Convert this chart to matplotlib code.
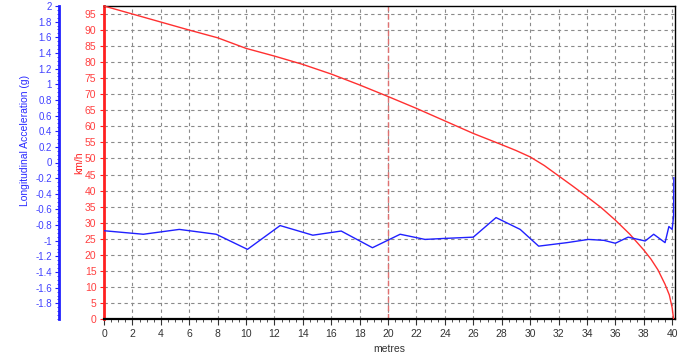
import matplotlib.pyplot as plt
import numpy as np
from matplotlib.ticker import MultipleLocator

plt.rcParams["font.family"] = ["Liberation Sans", "DejaVu Sans"]

# speed trace (km/h) vs distance (m)
speed_x = [0, 2, 4, 6, 8, 10, 12, 14, 16, 18, 20, 22, 24, 26, 28, 29, 30, 31,
           32, 33, 34, 35, 36, 37, 38, 38.5, 39, 39.5, 39.8, 40, 40.1]
speed_kmh = [97.5, 95.0, 92.5, 90.0, 87.6, 84.3, 81.9, 79.3, 76.3, 72.9, 69.3,
             65.6, 61.7, 57.8, 54.3, 52.5, 50.5, 47.8, 44.6, 41.4, 38.1, 34.7,
             30.8, 26.5, 21.5, 18.7, 15.3, 10.8, 7.5, 3.5, 0.0]

# longitudinal acceleration (g) vs distance (m)
acc_x = [0, 2.77, 5.3, 7.9, 10.1, 12.4, 14.7, 16.7, 18.9, 20.85, 22.6, 24.0,
         26.0, 27.6, 29.3, 30.6, 32.6, 34.1, 35.2, 36.0, 36.9, 38.1, 38.7,
         39.5, 39.77, 40.0, 40.1, 40.12]
acc_g = [-0.872, -0.917, -0.855, -0.917, -1.110, -0.806, -0.929, -0.876,
         -1.089, -0.917, -0.983, -0.970, -0.954, -0.704, -0.855, -1.069,
         -1.024, -0.983, -0.995, -1.032, -0.954, -1.003, -0.917, -1.024,
         -0.818, -0.855, -0.687, -0.195]

g_ticks = [-1.8, -1.6, -1.4, -1.2, -1, -0.8, -0.6, -0.4, -0.2, 0,
           0.2, 0.4, 0.6, 0.8, 1, 1.2, 1.4, 1.6, 1.8, 2]

marker_x = 20

RED = "#ff2020"
BLUE = "#2020ff"

fig = plt.figure(figsize=(6.9, 3.58), dpi=100)
ax = fig.add_axes([104 / 690, 1 - 319 / 358, 571 / 690, 313 / 358])

ax.set_xlim(0, 40.2)
ax.set_ylim(0, 97.5)
ax.xaxis.set_major_locator(MultipleLocator(2))
ax.xaxis.set_minor_locator(MultipleLocator(0.5))
ax.yaxis.set_major_locator(MultipleLocator(5))
ax.grid(True, which="major", color="#8a8a8a", linestyle=(0, (3, 3)), linewidth=0.8)

ax.plot(speed_x, speed_kmh, color="#ff3030", linewidth=1.0, zorder=3)
ax.axvline(marker_x, color="#e07070", linestyle=(0, (4, 2)), linewidth=1.0, zorder=2)

for s in ["top", "right"]:
    ax.spines[s].set_color("black")
    ax.spines[s].set_linewidth(1.0)
ax.spines["bottom"].set_color("black")
ax.spines["bottom"].set_linewidth(1.6)
ax.spines["left"].set_color(RED)
ax.spines["left"].set_linewidth(2.0)

ax.tick_params(axis="x", which="major", labelsize=7.5, length=4, colors="#333333")
ax.tick_params(axis="x", which="minor", length=2, color="#333333")
ax.tick_params(axis="y", labelsize=7.5, length=3, pad=2.5, colors=RED, labelcolor="#ff4040")
ax.set_xlabel("metres", fontsize=7.5, color="#333333", labelpad=3)
ax.set_ylabel("km/h", fontsize=7.5, color=RED)
ax.yaxis.set_label_coords(-0.035, 0.5)

# acceleration axis
ax2 = ax.twinx()
ax2.set_ylim(-2, 2)
ax2.plot(acc_x, acc_g, color=BLUE, linewidth=1.0, zorder=4)
ax2.yaxis.set_ticks_position("left")
ax2.yaxis.set_label_position("left")
ax2.spines["left"].set_position(("outward", 45 * 0.72))
ax2.spines["left"].set_visible(True)
ax2.spines["left"].set_color(BLUE)
ax2.spines["left"].set_linewidth(2.0)
ax2.spines["right"].set_visible(False)
ax2.spines["top"].set_visible(False)
ax2.spines["bottom"].set_visible(False)
ax2.yaxis.set_minor_locator(MultipleLocator(0.05))
ax2.set_yticks(g_ticks)
ax2.set_yticklabels([f"{v:g}" for v in g_ticks])
ax2.tick_params(axis="y", which="major", labelsize=7, length=3, pad=2,
                colors=BLUE, labelcolor="#4040ff")
ax2.tick_params(axis="y", which="minor", length=1.5, color=BLUE)
ax2.set_ylabel("Longitudinal Acceleration (g)", fontsize=7.5, color="#2a2aff")
ax2.yaxis.set_label_coords(-0.13, 0.57)

fig.savefig("out.png", dpi=100)
